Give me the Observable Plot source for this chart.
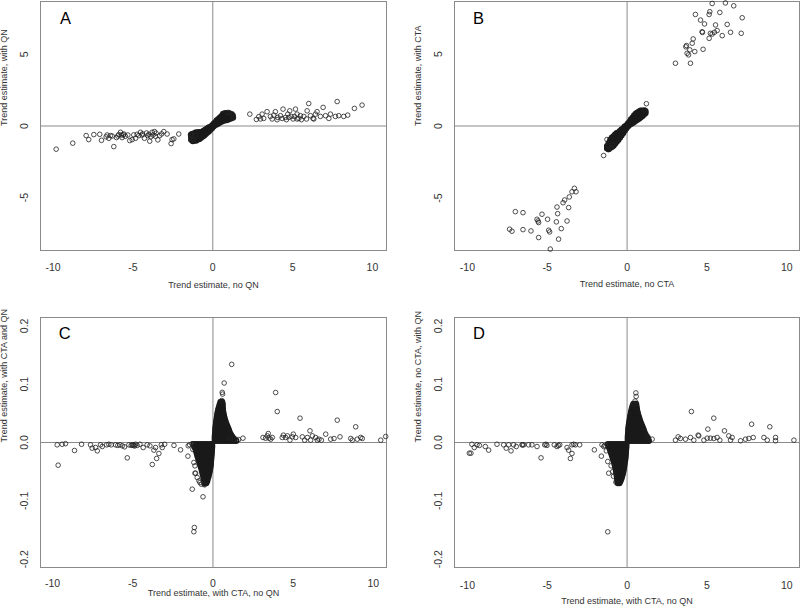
<!DOCTYPE html>
<html><head><meta charset="utf-8">
<script src="https://cdn.jsdelivr.net/npm/d3@7"></script>
<script src="https://cdn.jsdelivr.net/npm/@observablehq/plot@0.6"></script>
<style>
html,body{margin:0;padding:0;background:#fff;}
#wrap{position:relative;width:800px;height:608px;overflow:hidden;font-family:"Liberation Sans",Arial,sans-serif;}
#wrap > svg, #wrap > figure{position:absolute;margin:0;}
</style></head><body><div id="wrap"></div>
<script>
// ---- shared tick values ----
const xTicks = [-10, -5, 0, 5, 10];
const yTicksAB = [-5, 0, 5];
const yTicksCD = [-0.2, -0.1, 0, 0.1, 0.2];

// ---- Panel A: scattered points [x, y] ----
const aPoints = [
[-9.81,-1.62],[-8.77,-1.2],[-7.93,-0.67],[-7.77,-0.95],[-7.45,-0.6],[-7.08,-0.58],[-6.97,-1.0],[-6.68,-0.76],[-6.62,-0.63],[-6.51,-0.86],[-6.41,-0.67],[-6.3,-0.7],[-6.2,-1.44],[-6.03,-0.81],[-5.95,-0.7],[-5.89,-0.6],[-5.78,-0.44],[-5.72,-0.63],[-5.68,-0.81],[-5.6,-0.62],[-5.57,-0.56],[-5.47,-0.72],[-5.32,-0.63],[-5.2,-1.02],[-5.05,-0.95],[-4.95,-0.62],[-4.84,-0.86],[-4.74,-0.58],[-4.63,-0.67],[-4.53,-0.44],[-4.43,-0.63],[-4.4,-0.55],[-4.28,-0.86],[-4.15,-0.49],[-4.07,-0.67],[-4.0,-0.58],[-3.95,-1.06],[-3.88,-0.75],[-3.8,-0.44],[-3.74,-0.63],[-3.65,-0.39],[-3.59,-0.72],[-3.55,-0.5],[-3.44,-0.97],[-3.32,-0.67],[-3.2,-0.55],[-3.07,-0.39],[-2.86,-0.56],[-2.61,-1.23],[-2.55,-0.95],[-2.44,-0.9],[-2.13,-0.56],[-1.36,-0.56],[-1.29,-0.86],[-1.19,-0.95],[-1.09,-0.67],
[2.32,0.83],[2.73,0.46],[2.88,0.65],[2.99,0.49],[3.09,0.83],[3.19,0.53],[3.4,1.0],[3.61,0.67],[3.72,0.49],[3.82,0.76],[3.92,1.0],[4.03,0.44],[4.07,0.6],[4.24,0.72],[4.34,0.53],[4.4,1.18],[4.55,0.6],[4.61,0.44],[4.7,0.83],[4.76,0.6],[4.82,1.06],[4.91,0.67],[5.03,0.49],[5.11,0.67],[5.18,1.18],[5.28,0.83],[5.28,0.49],[5.39,0.53],[5.49,0.72],[5.55,0.44],[5.7,0.67],[5.87,0.49],[5.91,1.06],[6.01,1.57],[6.12,0.72],[6.28,0.53],[6.33,0.49],[6.43,0.83],[6.53,1.0],[6.74,0.67],[6.91,1.3],[7.06,0.72],[7.27,0.53],[7.37,0.83],[7.68,0.67],[7.79,1.71],[7.89,0.72],[8.2,0.67],[8.45,0.76],[8.87,1.23],[9.35,1.46],
[-1.4,-0.62],[-1.32,-1.02],[0.95,0.95],[1.05,0.93],[1.3,0.58],[1.22,0.85]
];
// Panel A dense centre: [x, [y values]]
const aCore = [
[-1.35,[-0.95,-0.75,-0.6]],[-1.25,[-1.05,-0.9,-0.78,-0.65,-0.55]],[-1.15,[-1.0,-0.88,-0.76,-0.64,-0.52]],
[-1.05,[-1.02,-0.9,-0.78,-0.66,-0.54,-0.45]],[-0.95,[-0.95,-0.83,-0.71,-0.59,-0.47]],[-0.85,[-0.9,-0.78,-0.66,-0.54,-0.44]],
[-0.75,[-0.82,-0.7,-0.58,-0.46]],[-0.65,[-0.74,-0.62,-0.5,-0.4]],[-0.55,[-0.66,-0.54,-0.43,-0.33]],
[-0.45,[-0.56,-0.45,-0.35,-0.26]],[-0.35,[-0.46,-0.36,-0.27,-0.18]],[-0.25,[-0.36,-0.27,-0.18,-0.1]],
[-0.15,[-0.25,-0.16,-0.08]],[-0.05,[-0.14,-0.06,0.02]],[0.05,[-0.02,0.06,0.14]],[0.15,[0.08,0.16,0.25]],
[0.25,[0.12,0.2,0.3,0.38]],[0.35,[0.2,0.3,0.4,0.48]],[0.45,[0.27,0.37,0.48,0.58]],[0.55,[0.32,0.44,0.56,0.68]],
[0.65,[0.38,0.5,0.62,0.74,0.84]],[0.75,[0.4,0.52,0.64,0.76,0.88]],[0.85,[0.42,0.54,0.66,0.78,0.9]],
[0.95,[0.45,0.57,0.69,0.81]],[1.05,[0.5,0.62,0.74,0.86]],[1.15,[0.55,0.68,0.8]],[1.25,[0.6,0.72]]
];

// ---- Panel B ----
const bPoints = [
[5.33,8.51],[6.16,8.55],[6.68,8.35],[4.28,7.75],[4.6,7.36],[4.85,7.09],[5.18,7.94],[5.14,7.75],[5.81,7.89],[5.54,7.02],[6.27,7.06],[7.21,7.52],[4.7,6.55],[4.72,6.5],[5.22,6.44],[5.33,6.39],[5.47,6.51],[5.64,6.63],[5.14,6.09],[5.96,6.28],[6.48,6.51],[7.15,6.44],[4.14,6.05],[4.08,5.75],[3.72,5.59],[3.68,5.5],[3.93,5.29],[4.24,5.17],[3.76,5.05],[4.76,5.33],[3.85,4.94],[3.03,4.36],[3.97,4.36],
[-7.0,-5.95],[-6.52,-6.02],[-7.36,-7.17],[-7.21,-7.31],[-6.52,-7.2],[-6.02,-7.29],[-5.54,-7.75],[-5.64,-6.48],[-5.54,-6.71],[-5.58,-6.6],[-5.33,-6.13],[-4.98,-6.48],[-4.91,-7.24],[-4.85,-7.36],[-4.81,-8.55],[-4.39,-5.63],[-4.35,-6.09],[-4.43,-6.66],[-4.29,-7.86],[-4.12,-7.13],[-4.01,-5.33],[-3.91,-5.14],[-3.76,-6.6],[-3.66,-5.67],[-3.62,-4.93],[-3.45,-4.57],[-3.3,-4.33],[-3.2,-4.57],
[1.21,1.55],[1.1,1.13],[-1.47,-2.05],[-1.26,-0.94],[-1.15,-1.36],[-1.0,-1.52],[-1.19,-1.64],[-0.94,-1.29]
];
const bCore = [
[-1.25,[-1.55,-1.4]],[-1.15,[-1.6,-1.47,-1.34,-1.2]],[-1.05,[-1.5,-1.37,-1.24,-1.1,-0.97]],
[-0.95,[-1.45,-1.32,-1.19,-1.06,-0.93,-0.82]],[-0.85,[-1.35,-1.22,-1.09,-0.96,-0.83,-0.72]],
[-0.75,[-1.22,-1.09,-0.96,-0.83,-0.7,-0.6]],[-0.65,[-1.08,-0.95,-0.82,-0.7,-0.58,-0.5]],
[-0.55,[-0.95,-0.82,-0.7,-0.58,-0.47]],[-0.45,[-0.8,-0.68,-0.56,-0.45,-0.36]],[-0.35,[-0.65,-0.54,-0.43,-0.33,-0.25]],
[-0.25,[-0.48,-0.38,-0.28,-0.18]],[-0.15,[-0.32,-0.22,-0.13,-0.05]],[-0.05,[-0.16,-0.07,0.02]],[0.05,[-0.02,0.07,0.16]],
[0.15,[0.08,0.18,0.28]],[0.25,[0.16,0.27,0.38,0.46]],[0.35,[0.22,0.34,0.46,0.57]],[0.45,[0.3,0.42,0.54,0.66,0.74]],
[0.55,[0.38,0.5,0.62,0.74,0.85]],[0.65,[0.45,0.57,0.69,0.81,0.93]],[0.75,[0.52,0.64,0.76,0.88,1.0]],
[0.85,[0.6,0.72,0.84,0.96,1.06]],[0.95,[0.7,0.82,0.94,1.06]],[1.05,[0.8,0.92,1.04]],[1.15,[0.9,1.02]]
];

// ---- Panel C ----
const cPoints = [
[-9.65,-0.0389],[-9.71,-0.004],[-9.4,-0.003],[-9.19,-0.002],[-8.63,-0.0137],[-8.19,-0.003],[-7.63,-0.004],[-7.53,-0.0097],[-7.32,-0.0086],[-7.21,-0.0143],[-7.01,-0.004],[-6.9,-0.0069],[-6.63,-0.004],[-6.49,-0.003],[-6.34,-0.004],[-6.07,-0.004],[-5.93,-0.005],[-5.8,-0.004],[-5.65,-0.0057],[-5.51,-0.0074],[-5.34,-0.0263],[-5.24,-0.004],[-5.1,-0.005],[-5.03,-0.004],[-4.98,-0.004],[-4.93,-0.005],[-4.88,-0.006],[-4.82,-0.003],[-4.72,-0.005],[-4.55,-0.003],[-4.35,-0.0086],[-4.1,-0.004],[-3.93,-0.0057],[-3.78,-0.0377],[-3.68,-0.0131],[-3.58,-0.0086],[-3.51,-0.0274],[-3.37,-0.0189],[-3.22,-0.004],[-3.16,-0.0086],[-3.01,-0.003],[-2.43,-0.005],[-2.02,-0.0126],
[-1.56,-0.0234],[-1.54,-0.0057],[-1.45,-0.004],[-1.29,-0.08],[-1.19,-0.0343],[-1.16,-0.1457],[-1.19,-0.153],[-0.62,-0.0931],[-1.12,-0.0526],[-1.12,-0.04],[-1.08,-0.0526],[-0.98,-0.06],[-0.87,-0.0657],[-0.81,-0.0686],[-0.73,-0.0714],[-0.56,-0.0714],[-0.52,-0.0726],[-1.25,-0.012],[-1.3,-0.002],
[0.55,0.072],[0.6,0.083],[0.58,0.086],[0.7,0.102],[1.17,0.134],[1.1,0.0074],[1.6,0.005],[1.87,0.0074],
[3.12,0.0086],[3.28,0.0074],[3.39,0.0114],[3.49,0.0074],[3.6,0.0057],[3.45,0.0154],[3.7,0.0086],[3.91,0.0857],[4.01,0.0531],[4.32,0.0086],[4.39,0.0126],[4.53,0.0086],[4.64,0.0114],[4.8,0.004],[4.95,0.0097],[5.01,0.0143],[5.16,0.0086],[5.43,0.0417],[5.57,0.0097],[5.72,0.004],[5.88,0.0086],[6.05,0.02],[6.09,0.004],[6.2,0.0114],[6.4,0.0086],[6.51,0.004],[6.61,0.0057],[6.76,0.004],[7.03,0.0143],[7.34,0.0057],[7.55,0.0069],[7.75,0.0383],[7.92,0.0097],[8.59,0.0069],[8.69,0.004],[8.9,0.0269],[9.0,0.0057],[9.21,0.0086],[9.31,0.0069],[10.46,0.004],[10.77,0.0103]
];
// dense rows: [y, [x values]]
const cCore = [
[0.003,[0.12,0.27,0.42,0.57,0.72,0.87,1.02,1.17,1.32,1.45]],[0.0065,[0.12,0.27,0.42,0.57,0.72,0.87,1.02,1.17,1.3]],
[0.01,[0.12,0.27,0.42,0.57,0.72,0.87,1.02,1.2]],[0.0135,[0.13,0.28,0.43,0.58,0.73,0.88,1.0,1.12]],
[0.017,[0.14,0.29,0.44,0.59,0.74,0.89,1.05]],[0.0205,[0.15,0.3,0.45,0.6,0.75,0.88,1.0]],
[0.024,[0.16,0.31,0.46,0.61,0.76,0.95]],[0.0275,[0.17,0.32,0.47,0.62,0.77,0.9]],[0.031,[0.19,0.34,0.49,0.64,0.85]],
[0.0345,[0.2,0.35,0.5,0.65,0.8]],[0.038,[0.22,0.37,0.52,0.64,0.76]],[0.0415,[0.24,0.38,0.52,0.62,0.72]],
[0.045,[0.26,0.4,0.54,0.69]],[0.0485,[0.28,0.41,0.54,0.66]],[0.052,[0.3,0.42,0.54,0.64]],[0.0555,[0.33,0.45,0.55,0.62]],
[0.059,[0.36,0.48,0.61]],[0.0625,[0.4,0.5,0.6]],[0.066,[0.44,0.53,0.6]],[0.0695,[0.48,0.57]],
[-0.003,[-1.2,-1.05,-0.9,-0.75,-0.6,-0.45,-0.3,-0.15,-0.06]],[-0.0065,[-1.15,-1.0,-0.85,-0.7,-0.55,-0.4,-0.25,-0.1,-0.05]],
[-0.01,[-1.1,-0.96,-0.82,-0.68,-0.54,-0.4,-0.26,-0.12,-0.06]],[-0.0135,[-1.05,-0.91,-0.77,-0.63,-0.49,-0.35,-0.21,-0.07]],
[-0.017,[-1.02,-0.88,-0.74,-0.6,-0.46,-0.32,-0.18,-0.08]],[-0.0205,[-0.98,-0.84,-0.7,-0.56,-0.42,-0.28,-0.14,-0.09]],
[-0.024,[-0.95,-0.81,-0.67,-0.53,-0.39,-0.25,-0.1]],[-0.0275,[-0.91,-0.77,-0.63,-0.49,-0.35,-0.21,-0.11]],
[-0.031,[-0.87,-0.73,-0.59,-0.45,-0.31,-0.12]],[-0.0345,[-0.83,-0.69,-0.55,-0.41,-0.27,-0.13]],
[-0.038,[-0.79,-0.65,-0.51,-0.37,-0.23,-0.14]],[-0.0415,[-0.75,-0.61,-0.47,-0.33,-0.16]],[-0.045,[-0.71,-0.57,-0.43,-0.29,-0.18]],
[-0.0485,[-0.68,-0.54,-0.4,-0.28,-0.2]],[-0.052,[-0.65,-0.52,-0.38,-0.23]],[-0.0555,[-0.62,-0.5,-0.37,-0.26]],
[-0.059,[-0.59,-0.47,-0.36,-0.29]],[-0.0625,[-0.56,-0.45,-0.34]],[-0.066,[-0.53,-0.43,-0.36]],[-0.0695,[-0.5,-0.42]]
];

// ---- Panel D ----
const dPoints = [
[-9.88,-0.0183],[-9.78,-0.0183],[-9.72,-0.003],[-9.57,-0.0086],[-9.4,-0.004],[-9.25,-0.005],[-8.88,-0.0069],[-8.67,-0.0131],[-8.15,-0.003],[-7.73,-0.004],[-7.57,-0.0097],[-7.42,-0.004],[-7.27,-0.0143],[-7.11,-0.004],[-6.94,-0.0069],[-6.58,-0.004],[-6.55,-0.004],[-6.48,-0.004],[-6.17,-0.004],[-5.96,-0.004],[-5.64,-0.0069],[-5.39,-0.0263],[-5.16,-0.004],[-5.08,-0.003],[-5.02,-0.005],[-4.56,-0.004],[-4.39,-0.0069],[-4.3,-0.005],[-4.22,-0.004],[-3.76,-0.0086],[-3.66,-0.0131],[-3.55,-0.0274],[-3.45,-0.0189],[-3.45,-0.004],[-3.34,-0.003],[-3.24,-0.004],[-2.97,-0.004],[-2.05,-0.0126],[-1.61,-0.0234],[-1.57,-0.004],[-1.46,-0.0069],
[-1.21,-0.1531],[-1.15,-0.0526],[-1.21,-0.0326],[-1.3,-0.0143],[-1.4,-0.005],[-1.0,-0.04],[-0.9,-0.05],[-0.85,-0.058],[-0.7,-0.068],
[0.55,0.085],[0.57,0.079],[0.5,0.071],[0.45,0.066],[1.57,0.0057],[1.3,0.01],
[3.03,0.004],[3.2,0.0097],[3.34,0.0069],[3.66,0.0057],[3.97,0.0086],[4.03,0.0531],[4.18,0.004],[4.45,0.0126],[4.49,0.0114],[4.81,0.004],[5.02,0.0074],[5.06,0.0229],[5.22,0.0074],[5.43,0.0417],[5.43,0.0069],[5.64,0.0086],[5.81,0.004],[6.1,0.02],[6.37,0.0114],[6.48,0.004],[6.58,0.0086],[7.11,0.003],[7.42,0.0057],[7.63,0.0069],[7.8,0.0314],[7.9,0.0086],[8.57,0.0086],[8.78,0.004],[8.94,0.0269],[9.3,0.0086],[9.3,0.003],[10.45,0.004]
];
const dCore = [
[0.003,[0.05,0.2,0.35,0.5,0.65,0.8,0.95,1.1,1.25,1.36]],[0.0065,[0.05,0.2,0.35,0.5,0.65,0.8,0.95,1.1,1.3]],
[0.01,[0.05,0.2,0.35,0.5,0.65,0.8,0.95,1.08,1.22]],[0.0135,[0.06,0.21,0.36,0.51,0.66,0.81,0.96,1.16]],
[0.017,[0.07,0.22,0.37,0.52,0.67,0.82,0.96,1.1]],[0.0205,[0.08,0.23,0.38,0.53,0.68,0.83,1.05]],
[0.024,[0.09,0.24,0.39,0.54,0.69,0.84,1.0]],[0.0275,[0.1,0.25,0.4,0.55,0.7,0.82,0.95]],
[0.031,[0.12,0.27,0.42,0.57,0.72,0.9]],[0.0345,[0.14,0.29,0.44,0.59,0.72,0.85]],[0.038,[0.16,0.3,0.44,0.58,0.7,0.8]],
[0.0415,[0.18,0.32,0.46,0.6,0.76]],[0.045,[0.2,0.34,0.48,0.6,0.72]],[0.0485,[0.23,0.36,0.49,0.6,0.68]],
[0.052,[0.25,0.38,0.51,0.65]],[0.0555,[0.28,0.4,0.52,0.62]],[0.059,[0.31,0.43,0.53,0.6]],[0.0625,[0.35,0.46,0.58]],[0.066,[0.4,0.5,0.56]],
[-0.003,[-1.2,-1.05,-0.9,-0.75,-0.6,-0.45,-0.3,-0.15,-0.05]],[-0.0065,[-1.15,-1.0,-0.85,-0.7,-0.55,-0.4,-0.25,-0.1,-0.05]],
[-0.01,[-1.1,-0.96,-0.82,-0.68,-0.54,-0.4,-0.26,-0.12,-0.06]],[-0.0135,[-1.05,-0.91,-0.77,-0.63,-0.49,-0.35,-0.21,-0.07]],
[-0.017,[-1.0,-0.86,-0.72,-0.58,-0.44,-0.3,-0.16,-0.08]],[-0.0205,[-0.96,-0.82,-0.68,-0.54,-0.4,-0.26,-0.09]],
[-0.024,[-0.92,-0.78,-0.64,-0.5,-0.36,-0.22,-0.1]],[-0.0275,[-0.88,-0.74,-0.6,-0.46,-0.32,-0.18,-0.11]],
[-0.031,[-0.84,-0.7,-0.56,-0.42,-0.28,-0.13]],[-0.0345,[-0.8,-0.67,-0.54,-0.41,-0.28,-0.15]],
[-0.038,[-0.77,-0.64,-0.51,-0.38,-0.17]],[-0.0415,[-0.74,-0.61,-0.48,-0.35,-0.19]],[-0.045,[-0.71,-0.58,-0.45,-0.32,-0.21]],
[-0.0485,[-0.69,-0.56,-0.43,-0.3,-0.23]],[-0.052,[-0.67,-0.54,-0.41,-0.26]],[-0.0555,[-0.65,-0.52,-0.4,-0.29]],
[-0.059,[-0.63,-0.5,-0.38,-0.33]],[-0.0625,[-0.61,-0.49,-0.37]],[-0.066,[-0.6,-0.5,-0.42]],[-0.0695,[-0.58,-0.48]]
];

// ---- labels ----
const xLabels = ["Trend estimate, no QN", "Trend estimate, no CTA", "Trend estimate, with CTA, no QN", "Trend estimate, with CTA, no QN"];
const yLabels = ["Trend estimate, with QN", "Trend estimate, with CTA", "Trend estimate, with CTA and QN", "Trend estimate, no CTA, with QN"];
const letters = ["A", "B", "C", "D"];

const cols = (c) => c.flatMap(([x, ys]) => ys.map(y => ({x, y})));
const rows = (r) => r.flatMap(([y, xs]) => xs.map(x => ({x, y})));

const FONT = '"Liberation Sans", Arial, sans-serif';
const GRAY = "#8a8a8a";
const TXT = "#333";

function panel(o) {
  const pts = o.points.map(([x, y]) => ({x, y}));
  const svg = Plot.plot({
    width: 400, height: o.height,
    marginLeft: o.ml, marginRight: o.mr, marginTop: o.mt, marginBottom: o.mb,
    style: {fontFamily: FONT, background: "transparent", overflow: "visible"},
    x: {domain: o.xd},
    y: {domain: o.yd},
    marks: [
      Plot.ruleX([0], {stroke: GRAY, strokeWidth: 1}),
      Plot.ruleY([0], {stroke: GRAY, strokeWidth: 1}),
      Plot.frame({stroke: GRAY, strokeWidth: 1}),
      Plot.dot(o.core, {x: "x", y: "y", r: 2.3, stroke: "#1a1a1a", strokeWidth: 1.8, fill: "none"}),
      Plot.dot(pts, {x: "x", y: "y", r: 2.3, stroke: "#222", strokeWidth: 0.8, fill: "none"}),
      Plot.axisX({ticks: xTicks, tickFormat: d => String(d), tickSize: 0, tickPadding: o.xpad, fontSize: 10.5, fill: TXT, label: null}),
      Plot.axisY({ticks: o.yticks, tickFormat: o.fmt, tickSize: 0, tickPadding: 12.5, tickRotate: -90, fontSize: 10.5, fill: TXT, label: null}),
      Plot.text([o.xLabel], {text: d => d, frameAnchor: "bottom", dy: o.xtd, fontSize: 9, fill: TXT}),
      Plot.text([o.yLabel], {text: d => d, frameAnchor: "left", dx: -36, rotate: -90, fontSize: 9, fill: TXT}),
      Plot.text([o.letter], {text: d => d, frameAnchor: "top-left", textAnchor: "start", lineAnchor: "bottom", dx: o.ldx, dy: o.ldy, fontSize: 16.5, fill: "#000"})
    ]
  });
  svg.style.position = "absolute";
  svg.style.left = o.left + "px";
  svg.style.top = o.top + "px";
  document.getElementById("wrap").appendChild(svg);
}

const f0 = d => String(d);
const f1 = d => d.toFixed(1);

panel({left: 0, top: 0, height: 300, ml: 40, mr: 14, mt: 1, mb: 50, xd: [-10.79, 10.88], yd: [-8.7, 8.7],
  points: aPoints, core: cols(aCore), yticks: yTicksAB, fmt: f0, xpad: 13, xtd: 37,
  xLabel: xLabels[0], yLabel: yLabels[0], letter: letters[0], ldx: 19.5, ldy: 22.3});
panel({left: 400, top: 0, height: 300, ml: 54, mr: 1, mt: 1, mb: 50, xd: [-10.81, 10.8], yd: [-8.65, 8.65],
  points: bPoints, core: cols(bCore), yticks: yTicksAB, fmt: f0, xpad: 13, xtd: 36.7,
  xLabel: xLabels[1], yLabel: yLabels[1], letter: letters[1], ldx: 18.4, ldy: 22.3});
panel({left: 0, top: 300, height: 308, ml: 40, mr: 14, mt: 17, mb: 41, xd: [-10.75, 10.82], yd: [-0.2143, 0.2143],
  points: cPoints, core: rows(cCore), yticks: yTicksCD, fmt: f1, xpad: 12, xtd: 28,
  xLabel: xLabels[2], yLabel: yLabels[2], letter: letters[2], ldx: 18.3, ldy: 21});
panel({left: 400, top: 300, height: 308, ml: 54, mr: 1, mt: 17, mb: 41, xd: [-10.81, 10.8], yd: [-0.2143, 0.2143],
  points: dPoints, core: rows(dCore), yticks: yTicksCD, fmt: f1, xpad: 14, xtd: 36.5,
  xLabel: xLabels[3], yLabel: yLabels[3], letter: letters[3], ldx: 18.4, ldy: 21.6});
</script>
</body></html>
